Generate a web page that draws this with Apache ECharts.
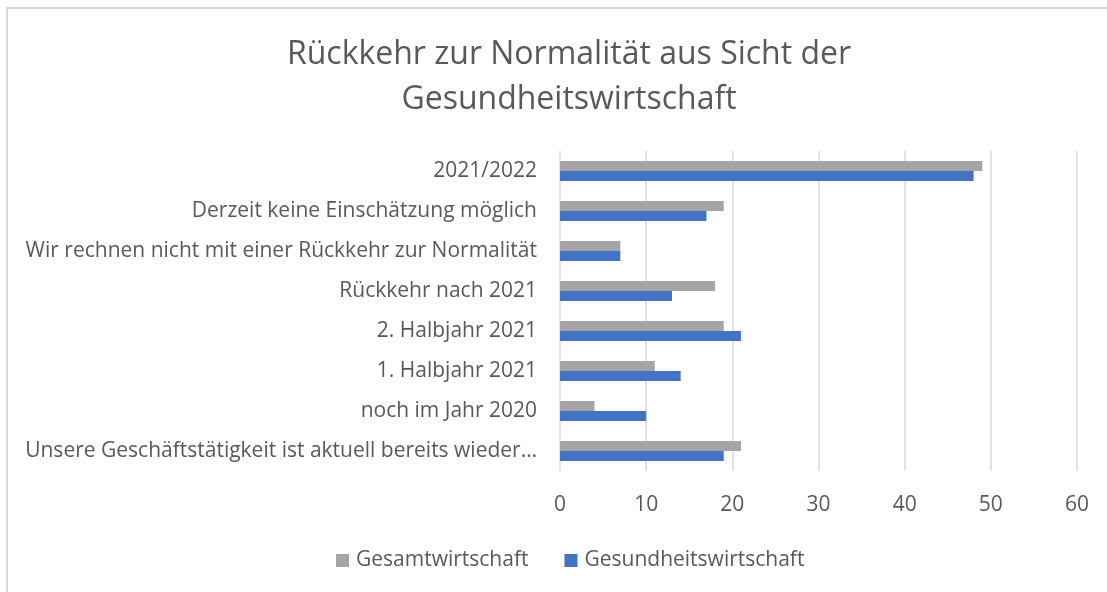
<!DOCTYPE html>
<html>
<head>
<meta charset="utf-8">
<script src="https://cdn.jsdelivr.net/npm/echarts@6/dist/echarts.min.js"></script>
<style>
  html, body { margin: 0; padding: 0; background: #fff; }
  #chart { width: 1107px; height: 592px; }
  #frame {
    position: absolute; left: 6px; top: 7px; width: 1110px; height: 600px;
    border-left: 2px solid #d9d9d9; border-top: 2px solid #d9d9d9;
    pointer-events: none;
  }
</style>
</head>
<body>
<div id="chart"></div>
<div id="frame"></div>
<script>
// categories top-down as shown in the chart
const categories = [
  '2021/2022',
  'Derzeit keine Einschätzung möglich',
  'Wir rechnen nicht mit einer Rückkehr zur Normalität',
  'Rückkehr nach 2021',
  '2. Halbjahr 2021',
  '1. Halbjahr 2021',
  'noch im Jahr 2020',
  'Unsere Geschäftstätigkeit ist aktuell bereits wieder…'
]
const gesamtwirtschaft = [49, 19, 7, 18, 19, 11, 4, 21]
const gesundheitswirtschaft = [48, 17, 7, 13, 21, 14, 10, 19]
const xTicks = [0, 60, 10]

const font = '"Open Sans", sans-serif'
const textColor = '#595959'

const chart = echarts.init(document.getElementById('chart'))
chart.setOption({
  animation: false,
  title: {
    text: 'Rückkehr zur Normalität aus Sicht der\nGesundheitswirtschaft',
    left: 564,
    textAlign: 'center',
    top: 27,
    textStyle: {
      fontFamily: font,
      fontWeight: 'normal',
      fontSize: 32,
      lineHeight: 45,
      color: textColor
    }
  },
  legend: {
    top: 545,
    left: 331,
    itemWidth: 13,
    itemHeight: 13,
    itemGap: 36,
    icon: 'rect',
    data: ['Gesamtwirtschaft', 'Gesundheitswirtschaft'],
    textStyle: {
      fontFamily: font,
      fontSize: 21,
      color: textColor,
      padding: [0, 0, 0, 2]
    }
  },
  grid: {
    top: 151,
    bottom: 121,
    left: 560,
    right: 30
  },
  xAxis: {
    type: 'value',
    min: xTicks[0],
    max: xTicks[1],
    interval: xTicks[2],
    axisLine: { show: false },
    axisTick: { show: false },
    axisLabel: {
      margin: 24,
      fontFamily: font,
      fontSize: 21,
      color: textColor
    },
    splitLine: {
      lineStyle: { color: '#d9d9d9', width: 1.5 }
    }
  },
  yAxis: {
    type: 'category',
    inverse: true,
    data: categories,
    axisLine: { show: false },
    axisTick: { show: false },
    axisLabel: {
      margin: 23,
      fontFamily: font,
      fontSize: 21,
      color: textColor
    }
  },
  series: [{
    name: 'Gesamtwirtschaft',
    type: 'bar',
    barWidth: 10,
    barGap: '0%',
    itemStyle: { color: '#a5a5a5' },
    data: gesamtwirtschaft
  }, {
    name: 'Gesundheitswirtschaft',
    type: 'bar',
    barWidth: 10,
    barGap: '0%',
    itemStyle: { color: '#4472c4' },
    data: gesundheitswirtschaft
  }]
})
</script>
</body>
</html>
